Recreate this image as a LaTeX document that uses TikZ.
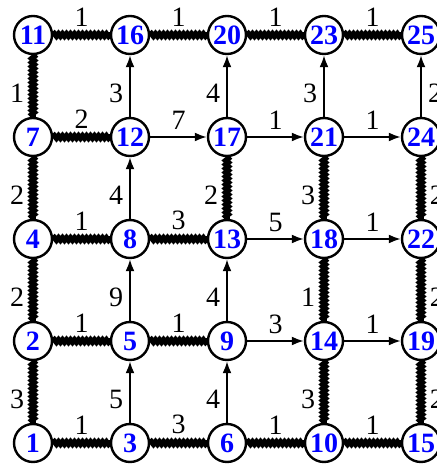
\documentclass[tikz,border=0pt]{standalone}
\usepackage{fontspec}
\setmainfont{Liberation Serif}
\usetikzlibrary{arrows.meta,decorations.pathmorphing}

\begin{document}
\begin{tikzpicture}[x=48.5pt,y=51pt,
  every node/.style={font=\fontsize{14}{16}\selectfont},
  vtx/.style={draw, circle, line width=1.2pt, minimum size=19pt, inner sep=0pt, fill=white, text=blue, font=\fontsize{14}{16}\selectfont\bfseries},
  tree/.style={line width=2.8pt, decorate, decoration={snake, amplitude=0.6pt, segment length=2pt}},
  arc/.style={->, line width=1pt},
  wh/.style={above=3pt, inner sep=0pt},
  wl/.style={left=3pt, inner sep=0pt, yshift=-3.5pt},
  wr/.style={right=3pt, inner sep=0pt, yshift=-3.5pt},
  >={Latex[length=6pt,width=4.5pt]}
]
  \useasboundingbox (-16.5pt,-11pt) rectangle (202pt,221.5pt);

  % grid of vertices, row 0 at the bottom
  \foreach \n/\c/\r in {1/0/0,3/1/0,6/2/0,10/3/0,15/4/0,
                        2/0/1,5/1/1,9/2/1,14/3/1,19/4/1,
                        4/0/2,8/1/2,13/2/2,18/3/2,22/4/2,
                        7/0/3,12/1/3,17/2/3,21/3/3,24/4/3,
                        11/0/4,16/1/4,20/2/4,23/3/4,25/4/4}
    \node[vtx] (v\n) at (\c,\r) {\n};

  % spanning tree edges
  \foreach \a/\b/\w in {11/16/1,16/20/1,20/23/1,23/25/1,7/12/2,4/8/1,8/13/3,
                        2/5/1,5/9/1,1/3/1,3/6/3,6/10/1,10/15/1}
    \draw[tree] (v\a) -- node[wh]{\w} (v\b);
  \foreach \a/\b/\w in {11/7/1,7/4/2,4/2/2,2/1/3,17/13/2,21/18/3,18/14/1,14/10/3}
    \draw[tree] (v\a) -- node[wl]{\w} (v\b);
  \foreach \a/\b/\w in {24/22/2,22/19/2,19/15/2}
    \draw[tree] (v\a) -- node[wr]{\w} (v\b);

  % remaining arcs
  \foreach \a/\b/\w in {12/17/7,17/21/1,21/24/1,13/18/5,18/22/1,9/14/3,14/19/1}
    \draw[arc] (v\a) -- node[wh]{\w} (v\b);
  \foreach \a/\b/\w in {12/16/3,8/12/4,5/8/9,3/5/5,17/20/4,9/13/4,6/9/4,21/23/3}
    \draw[arc] (v\a) -- node[wl]{\w} (v\b);
  \draw[arc] (v24) -- node[wr]{2} (v25);
\end{tikzpicture}
\end{document}
